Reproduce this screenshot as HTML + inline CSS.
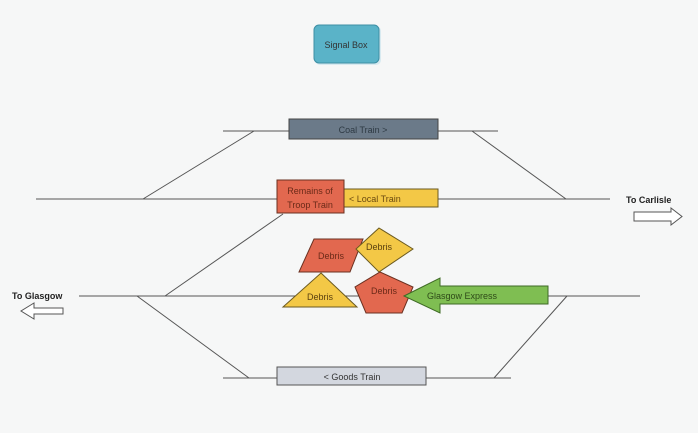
<!DOCTYPE html>
<html><head><meta charset="utf-8"><style>
html,body{margin:0;padding:0;background:#f6f7f7;}
svg{display:block;}
text{font-family:"Liberation Sans",sans-serif;font-size:9px;}
</style></head><body>
<svg width="698" height="433" viewBox="0 0 698 433" xmlns="http://www.w3.org/2000/svg">
<rect width="698" height="433" fill="#f6f7f7"/>
<g stroke="#555" stroke-width="1" fill="none">
<line x1="223" y1="131" x2="498" y2="131"/>
<line x1="254" y1="131" x2="143" y2="199"/>
<line x1="472" y1="131" x2="566" y2="199"/>
<line x1="36" y1="199" x2="610" y2="199"/>
<line x1="283" y1="214" x2="165" y2="296"/>
<line x1="79" y1="296" x2="640" y2="296"/>
<line x1="137" y1="296" x2="249" y2="378"/>
<line x1="567" y1="296" x2="494" y2="378"/>
<line x1="223" y1="378" x2="511" y2="378"/>
</g>
<rect x="315" y="26" width="66" height="39" rx="5" fill="#d8eaf0"/>
<rect x="314" y="25" width="65" height="38" rx="5" fill="#5ab3c8" stroke="#3d8fa5"/>
<text x="346" y="48" text-anchor="middle" fill="#333" font-size="8">Signal Box</text>
<rect x="289" y="119" width="149" height="20" fill="#6b7a89" stroke="#444"/>
<text x="363" y="133" text-anchor="middle" fill="#2e3a44">Coal Train &gt;</text>
<rect x="344" y="189" width="94" height="18" fill="#f3c846" stroke="#6b5a20"/>
<text x="349" y="202" fill="#6b4a10">&lt; Local Train</text>
<rect x="277" y="180" width="67" height="33" fill="#e2684f" stroke="#6b3020"/>
<text x="310" y="194" text-anchor="middle" fill="#6b2a18">Remains of</text>
<text x="310" y="208" text-anchor="middle" fill="#6b2a18">Troop Train</text>
<rect x="277" y="367" width="149" height="18" fill="#d3d7df" stroke="#555"/>
<text x="352" y="380" text-anchor="middle" fill="#333">&lt; Goods Train</text>
<polygon points="314,239 363,239 350,272 299,272" fill="#e2684f" stroke="#6b3020"/>
<text x="331" y="259" text-anchor="middle" fill="#6b2a18">Debris</text>
<polygon points="379,228 413,249 379,272 356,249" fill="#f3c846" stroke="#6b5a20"/>
<text x="379" y="250" text-anchor="middle" fill="#5a4010">Debris</text>
<polygon points="321,273 357,307 283,307" fill="#f3c846" stroke="#6b5a20"/>
<text x="320" y="300" text-anchor="middle" fill="#5a4010">Debris</text>
<polygon points="380,272 413,287 402,313 366,313 355,287" fill="#e2684f" stroke="#6b3020"/>
<text x="384" y="294" text-anchor="middle" fill="#6b2a18">Debris</text>
<polygon points="404,296 440,278 440,286 548,286 548,304 440,304 440,313" fill="#7fbe52" stroke="#3e6a25"/>
<text x="427" y="299" fill="#2e4a18">Glasgow Express</text>
<text x="626" y="203" font-weight="bold" font-size="9" fill="#222">To Carlisle</text>
<polygon points="634,212 671,212 671,208 682,216.5 671,225 671,221 634,221" fill="#fff" stroke="#555"/>
<text x="12" y="299" font-weight="bold" font-size="9" fill="#222">To Glasgow</text>
<polygon points="63,308 34,308 34,303 21,311 34,319 34,314 63,314" fill="#fff" stroke="#555"/>
</svg>
</body></html>
